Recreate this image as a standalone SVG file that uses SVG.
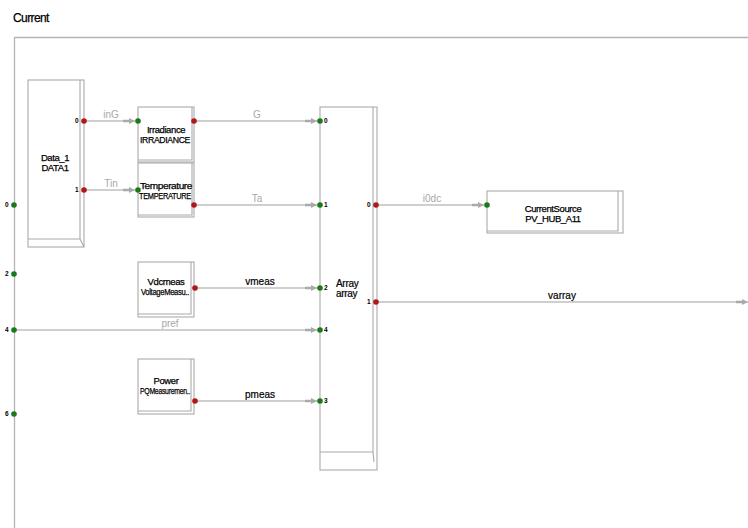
<svg xmlns="http://www.w3.org/2000/svg" width="748" height="528" viewBox="0 0 748 528">
<defs>
<style>
.frame{fill:none;stroke:#b4b4b4;stroke-width:1.3}
.blk{fill:#fff;stroke:#aaaaaa;stroke-width:1.1}
.sh{fill:none;stroke:#aaaaaa;stroke-width:1.1}
.t{font-family:"Liberation Sans",Arial,sans-serif;font-size:9.5px;fill:#000;stroke:#000;stroke-width:0.25;text-anchor:middle;letter-spacing:-0.4px}
.pl{font-family:"Liberation Sans",Arial,sans-serif;font-size:6.5px;font-weight:bold;fill:#000}
.w{fill:none;stroke:#a0a0a0;stroke-width:1.1}
.lg{font-family:"Liberation Sans",Arial,sans-serif;font-size:10px;fill:#a8a8a8;text-anchor:middle}
.lb{font-family:"Liberation Sans",Arial,sans-serif;font-size:10px;fill:#000;stroke:#000;stroke-width:0.2;text-anchor:middle}
.pin{fill:#1a7a1a}
.pout{fill:#b01818}
</style>
<marker id="ah" viewBox="0 0 12 7" refX="12" refY="3.5" markerWidth="12" markerHeight="7" markerUnits="userSpaceOnUse" orient="auto">
<path d="M0,2.2 H6 V0.5 L12,3.5 L6,6.5 V4.8 H0 Z" fill="#aaaaaa"/>
</marker>
</defs>
<rect width="748" height="528" fill="#fff"/>
<text x="13" y="22" font-family="Liberation Sans,Arial,sans-serif" font-size="12" fill="#000" stroke="#000" stroke-width="0.25" letter-spacing="-0.6">Current</text>
<path class="frame" d="M748,37.5 H14.5 V528"/>

<g id="connectors">
<path class="w" d="M84,121 H135" marker-end="url(#ah)"/>
<path class="w" d="M84,190 H135" marker-end="url(#ah)"/>
<path class="w" d="M194,121 H317" marker-end="url(#ah)"/>
<path class="w" d="M194,205 H317" marker-end="url(#ah)"/>
<path class="w" d="M377,205 H484" marker-end="url(#ah)"/>
<path class="w" d="M194,288 H317" marker-end="url(#ah)"/>
<path class="w" d="M14,330 H317" marker-end="url(#ah)"/>
<path class="w" d="M194,401 H317" marker-end="url(#ah)"/>
<path class="w" d="M377,302 H748" marker-end="url(#ah)"/>
<text class="lg" x="111" y="118">inG</text>
<text class="lg" x="111" y="187">Tin</text>
<text class="lg" x="257" y="118">G</text>
<text class="lg" x="257" y="202">Ta</text>
<text class="lg" x="432" y="202">i0dc</text>
<text class="lb" x="260" y="285">vmeas</text>
<text class="lg" x="170" y="327">pref</text>
<text class="lb" x="260" y="398">pmeas</text>
<text class="lb" x="562" y="299">varray</text>
</g>

<g id="boundary-ports">
<circle class="pin" cx="14" cy="205" r="2.8"/><text class="pl" x="5" y="207">0</text>
<circle class="pin" cx="14" cy="274" r="2.8"/><text class="pl" x="5" y="276">2</text>
<circle class="pin" cx="14" cy="330" r="2.8"/><text class="pl" x="5" y="332">4</text>
<circle class="pin" cx="14" cy="414" r="2.8"/><text class="pl" x="5" y="416">6</text>
</g>

<g id="data1">
<rect class="blk" x="28" y="80" width="56" height="167"/>
<path class="sh" d="M80,80 V239 H28 M80,239 L84,247"/>
<text class="t" x="55" y="161">Data_1</text>
<text class="t" x="55" y="171">DATA1</text>
<circle class="pout" cx="84" cy="121" r="2.8"/><text class="pl" x="75" y="123">0</text>
<circle class="pout" cx="84" cy="190" r="2.8"/><text class="pl" x="75" y="192">1</text>
</g>

<g id="irradiance">
<rect class="blk" x="138" y="107" width="56" height="55"/>
<path class="sh" d="M192,107 V160 H138"/>
<text class="t" x="166" y="133">Irradiance</text>
<text class="t" x="165" y="143" textLength="50" lengthAdjust="spacingAndGlyphs">IRRADIANCE</text>
<circle class="pin" cx="138" cy="121" r="2.8"/>
<circle class="pout" cx="194" cy="121" r="2.8"/>
</g>

<g id="temperature">
<rect class="blk" x="138" y="163" width="56" height="54"/>
<path class="sh" d="M192,163 V215 H138"/>
<text class="t" x="166" y="189" textLength="52" lengthAdjust="spacingAndGlyphs">Temperature</text>
<text class="t" x="165" y="199" textLength="52" lengthAdjust="spacingAndGlyphs">TEMPERATURE</text>
<circle class="pin" cx="138" cy="190" r="2.8"/>
<circle class="pout" cx="194" cy="205" r="2.8"/>
</g>

<g id="vdcmeas">
<rect class="blk" x="138" y="262" width="56" height="55"/>
<path class="sh" d="M191,262 V314 H138"/>
<text class="t" x="166" y="285">Vdcmeas</text>
<text class="t" x="165" y="295" textLength="48" lengthAdjust="spacingAndGlyphs">VoltageMeasu..</text>
<circle class="pout" cx="195" cy="288" r="2.8"/>
</g>

<g id="power">
<rect class="blk" x="138" y="359" width="56" height="55"/>
<path class="sh" d="M191,359 V411 H138"/>
<text class="t" x="166" y="384">Power</text>
<text class="t" x="165" y="394" textLength="50" lengthAdjust="spacingAndGlyphs">PQMeasuremen..</text>
<circle class="pout" cx="195" cy="401" r="2.8"/>
</g>

<g id="array">
<rect class="blk" x="320" y="107" width="57" height="363"/>
<path class="sh" d="M373,107 V452 H320 M373,452 L374,462"/>
<text x="336" y="287" font-family="Liberation Sans,Arial,sans-serif" font-size="10" fill="#000" stroke="#000" stroke-width="0.2" letter-spacing="-0.3">Array</text>
<text x="336" y="297" font-family="Liberation Sans,Arial,sans-serif" font-size="10" fill="#000" stroke="#000" stroke-width="0.2" letter-spacing="-0.3">array</text>
<circle class="pin" cx="320" cy="121" r="2.8"/><text class="pl" x="324" y="123">0</text>
<circle class="pin" cx="320" cy="205" r="2.8"/><text class="pl" x="324" y="207">1</text>
<circle class="pin" cx="320" cy="288" r="2.8"/><text class="pl" x="324" y="290">2</text>
<circle class="pin" cx="320" cy="330" r="2.8"/><text class="pl" x="324" y="332">4</text>
<circle class="pin" cx="320" cy="401" r="2.8"/><text class="pl" x="324" y="403">3</text>
<circle class="pout" cx="376" cy="205" r="2.8"/><text class="pl" x="367" y="207">0</text>
<circle class="pout" cx="376" cy="302" r="2.8"/><text class="pl" x="367" y="304">1</text>
</g>

<g id="currentsource">
<rect class="blk" x="487" y="191" width="136" height="42"/>
<path class="sh" d="M618,191 V231 H487"/>
<text class="t" x="553" y="212">CurrentSource</text>
<text class="t" x="553" y="222">PV_HUB_A11</text>
<circle class="pin" cx="487" cy="205" r="2.8"/>
</g>
</svg>
